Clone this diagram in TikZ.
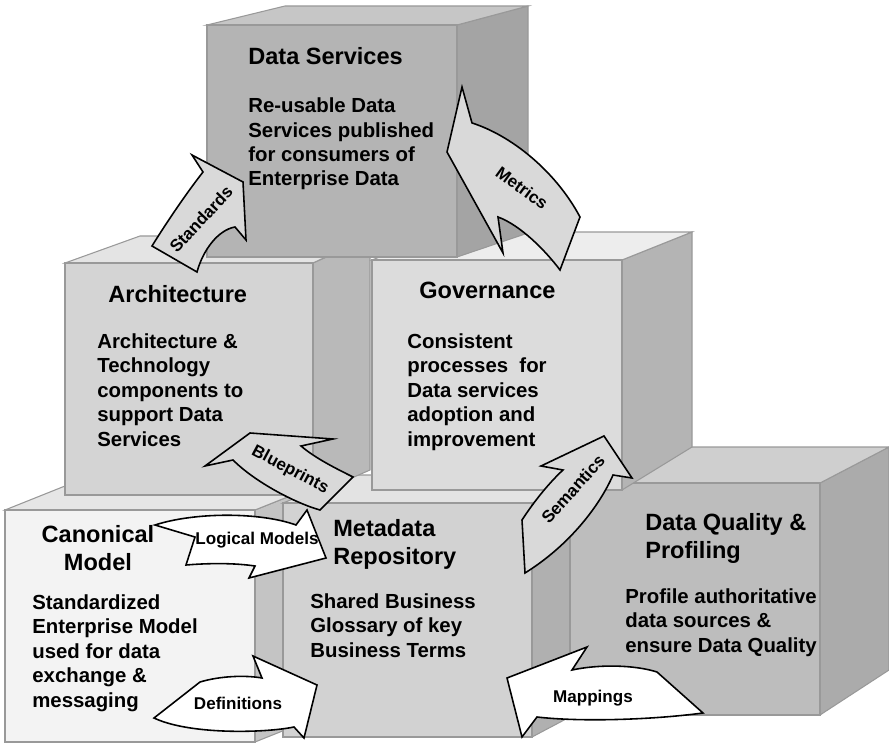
\documentclass[tikz,border=0pt]{standalone}
\usepackage{fontspec}
\setmainfont{Liberation Sans}
\usetikzlibrary{positioning}

\definecolor{dsfront}{HTML}{B4B4B4}
\definecolor{dsside}{HTML}{A4A4A4}
\definecolor{dstop}{HTML}{C6C6C6}
\definecolor{arfront}{HTML}{D4D4D4}
\definecolor{arside}{HTML}{B9B9B9}
\definecolor{artop}{HTML}{E4E4E4}
\definecolor{gvfront}{HTML}{DCDCDC}
\definecolor{gvside}{HTML}{B4B4B4}
\definecolor{gvtop}{HTML}{EDEDED}
\definecolor{cmfront}{HTML}{F3F3F3}
\definecolor{cmside}{HTML}{C4C4C4}
\definecolor{cmtop}{HTML}{E6E6E6}
\definecolor{mdfront}{HTML}{D2D2D2}
\definecolor{mdside}{HTML}{B0B0B0}
\definecolor{mdtop}{HTML}{E3E3E3}
\definecolor{dqfront}{HTML}{BDBDBD}
\definecolor{dqside}{HTML}{ABABAB}
\definecolor{dqtop}{HTML}{CFCFCF}
\definecolor{flowgray}{HTML}{D9D9D9}

\begin{document}
\begin{tikzpicture}[x=0.02cm, y=-0.02cm,
    face/.style={draw=black!40, line width=0.6pt},
    flow/.style={draw=black, line width=0.9pt, fill=flowgray},
    flowpale/.style={flow, fill=white},
    title/.style={font=\bfseries\fontsize{13.4}{15.8}\selectfont, inner sep=0pt, anchor=base west, align=left},
    body/.style={font=\bfseries\fontsize{11.6}{13.9}\selectfont, inner sep=0pt, anchor=base west, align=left},
    lbl/.style={font=\bfseries\fontsize{9.7}{11}\selectfont, inner sep=0pt}]
    \useasboundingbox (0,0) rectangle (889,743);
    \clip (0,0) rectangle (889,743);

    \path[face, fill=cmside] (255,510) -- (330,480) -- (330,712) -- (255,742) -- cycle;
    \path[face, fill=cmtop] (5,510) -- (80,480) -- (330,480) -- (255,510) -- cycle;
    \path[face, fill=cmfront] (5,510) rectangle (255,742);

    \path[face, fill=mdside] (532,503) -- (602,475) -- (602,700) -- (532,737) -- cycle;
    \path[face, fill=mdtop] (283,503) -- (353,475) -- (602,475) -- (532,503) -- cycle;
    \path[face, fill=mdfront] (283,503) rectangle (532,737);

    \path[face, fill=dqside] (820,483) -- (889,447) -- (889,670) -- (820,715) -- cycle;
    \path[face, fill=dqtop] (570,483) -- (640,447) -- (889,447) -- (820,483) -- cycle;
    \path[face, fill=dqfront] (570,483) rectangle (820,715);

    \path[face, fill=arside] (313,263) -- (370,238) -- (370,470) -- (313,495) -- cycle;
    \path[face, fill=artop] (65,263) -- (140,236) -- (370,236) -- (313,263) -- cycle;
    \path[face, fill=arfront] (65,263) rectangle (313,495);

    \path[face, fill=gvside] (622,260) -- (692,232) -- (692,447) -- (622,490) -- cycle;
    \path[face, fill=gvtop] (372,260) -- (442,232) -- (692,232) -- (622,260) -- cycle;
    \path[face, fill=gvfront] (372,260) rectangle (622,490);

    \path[face, fill=dsside] (457,25) -- (528,6) -- (528,233) -- (457,257) -- cycle;
    \path[face, fill=dstop] (207,25) -- (285,6) -- (528,6) -- (457,25) -- cycle;
    \path[face, fill=dsfront] (207,25) rectangle (457,257);

    \node[title] (dst) at (248,65) {Data Services};
    \node[body] (dsb) at (248,186) {Re-usable Data\\Services published\\for consumers of\\Enterprise Data};
    \node[title] (art) at (108,302) {Architecture};
    \node[body] (arb) at (97,446) {Architecture \&\\Technology\\components to\\support Data\\Services};
    \node[title] (gvt) at (419,298) {Governance};
    \node[body] (gvb) at (407,446) {Consistent\\processes\ \ for\\Data services\\adoption\ and\\improvement};
    \node[title, anchor=base, align=center] (cmt) at (98,570) {Canonical\\Model};
    \node[body] (cmb) at (32,707) {Standardized\\Enterprise Model\\used for data\\exchange \&\\messaging};
    \node[title] (mdt) at (333,564) {Metadata\\Repository};
    \node[body] (mdb) at (310,657) {Shared Business\\Glossary of key\\Business Terms};
    \node[title] (dqt) at (645,558) {Data Quality \&\\Profiling};
    \node[body] (dqb) at (625,652) {Profile authoritative\\data sources \&\\ensure Data Quality};

    \path[flow] (152,246) .. controls (165,225) and (185,195) .. (203,172) -- (192,155) -- (243,182)
        -- (246,240) -- (235,227) .. controls (218,230) and (203,250) .. (197,272) -- cycle;
    \path[flow] (462,87) -- (472,123) .. controls (510,135) and (555,170) .. (580,217) -- (560,270)
        .. controls (545,250) and (520,225) .. (498,217) -- (503,253) -- (447,152) -- cycle;
    \path[flow] (205,466) -- (250,433) -- (333,439) -- (301,446) .. controls (315,458) and (335,468) .. (353,477)
        -- (320,510) .. controls (295,503) and (255,482) .. (233,460) -- cycle;
    \path[flow] (522,520) .. controls (535,500) and (550,482) .. (563,470) -- (541,466) -- (604,436)
        -- (632,478) -- (613,475) .. controls (600,505) and (570,545) .. (525,573) -- cycle;
    \path[flowpale] (155,525) .. controls (195,512) and (260,512) .. (296,525) -- (307,510) -- (326,558)
        -- (249,578) -- (255,566) .. controls (235,563) and (210,563) .. (186,565) -- (195,537) -- cycle;
    \path[flowpale] (154,718) -- (200,682) .. controls (220,676) and (245,675) .. (262,678) -- (253,656)
        -- (317,685) -- (304,738) -- (294,727) .. controls (265,733) and (190,735) .. (154,718) -- cycle;
    \path[flowpale] (507,678) -- (587,647) -- (572,670) .. controls (600,664) and (635,665) .. (657,672)
        -- (703,713) .. controls (650,720) and (580,722) .. (537,717) -- (522,737) -- cycle;

    \node[lbl, rotate=47] (std) at (201,219) {Standards};
    \node[lbl, rotate=-36] (met) at (522,188) {Metrics};
    \node[lbl, rotate=-28] (blp) at (290,470) {Blueprints};
    \node[lbl, rotate=48] (sem) at (573,489) {Semantics};
    \node[lbl] (lgm) at (257,540) {Logical Models};
    \node[lbl] (def) at (238,703) {Definitions};
    \node[lbl] (map) at (593,698) {Mappings};
\end{tikzpicture}
\end{document}
